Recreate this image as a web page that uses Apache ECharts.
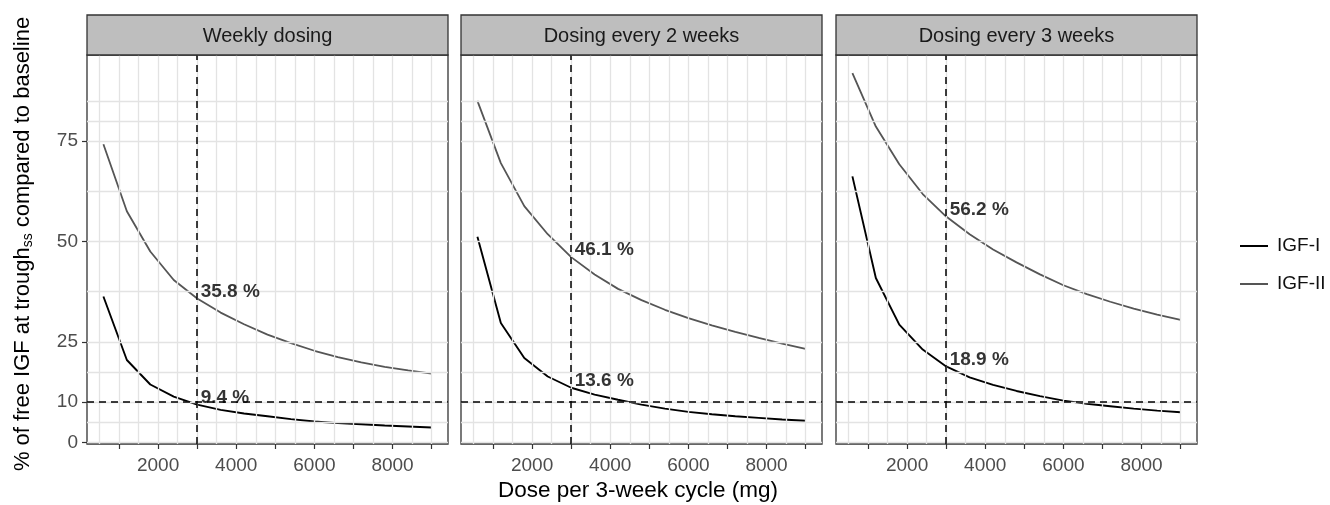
<!DOCTYPE html>
<html><head><meta charset="utf-8">
<script src="https://cdn.jsdelivr.net/npm/echarts@6/dist/echarts.min.js"></script>
<style>html,body{margin:0;padding:0;background:#fff}#c{width:1330px;height:505px}</style>
</head><body><div id="c"></div>
<script>
// ---- data ----
const doses = [600,1200,1800,2400,3000,3600,4200,4800,5400,6000,6600,7200,7800,8400,9000];
const panelTitles = ['Weekly dosing','Dosing every 2 weeks','Dosing every 3 weeks'];
const weeklyIGF1 = [36.3,20.5,14.4,11.4,9.4,8.1,7.2,6.5,5.8,5.2,4.8,4.5,4.2,3.95,3.7];
const weeklyIGF2 = [74.2,57.5,47.5,40.4,35.8,32.3,29.4,26.8,24.7,22.8,21.2,19.9,18.8,17.9,17.1];
const q2wIGF1 = [51.2,29.7,21.0,16.4,13.6,11.9,10.6,9.4,8.4,7.6,7.0,6.5,6.1,5.7,5.4];
const q2wIGF2 = [85.0,69.5,58.8,51.8,46.1,41.8,38.2,35.4,33.0,30.9,29.1,27.5,26.0,24.6,23.3];
const q3wIGF1 = [66.2,40.9,29.3,23.1,18.9,16.2,14.3,12.8,11.5,10.4,9.6,9.0,8.4,7.9,7.5];
const q3wIGF2 = [91.9,78.6,69.2,61.8,56.2,51.8,48.0,44.8,41.8,39.1,36.9,35.0,33.3,31.8,30.5];
const refDose = 3000;
const refLevel = 10;
const igf1AtRef = [9.4, 13.6, 18.9];
const igf2AtRef = [35.8, 46.1, 56.2];
const seriesNames = ['IGF-I','IGF-II'];
const xTickValues = [1000,2000,3000,4000,5000,6000,7000,8000,9000];
const xLabelValues = [2000,4000,6000,8000];
const yTickValues = [0,10,25,50,75];
const xGridValues = [500,1000,1500,2000,2500,3000,3500,4000,4500,5000,5500,6000,6500,7000,7500,8000,8500,9000];
const yGridValues = [0,5,10,17.5,25,37.5,50,62.5,75,80,85];

// ---- layout ----
const FONT = '"Liberation Sans", Arial, Helvetica, sans-serif';
const panelLeft = [87, 461, 836];
const panelW = 361, panelTop = 55, panelH = 389, stripTop = 15, stripH = 40;
const xRange = [180, 9420], yRange = [-0.4, 96.4];
const igf1 = [weeklyIGF1, q2wIGF1, q3wIGF1];
const igf2 = [weeklyIGF2, q2wIGF2, q3wIGF2];
const colI = '#000000', colII = '#555555';

const grids = [], xAxes = [], yAxes = [], series = [], graphics = [];
panelLeft.forEach((L, i) => {
  grids.push({left: L, top: panelTop, width: panelW, height: panelH, show: true,
    borderColor: '#333', borderWidth: 1.3, backgroundColor: 'transparent', containLabel: false});
  xAxes.push({type: 'value', gridIndex: i, min: xRange[0], max: xRange[1],
    axisLine: {show: false, onZero: false},
    axisTick: {show: true, length: 5, customValues: xTickValues, lineStyle: {color: '#333', width: 1.2}},
    axisLabel: {show: true, customValues: xLabelValues, fontSize: 19, color: '#4d4d4d', margin: 12, fontFamily: FONT,
      formatter: v => String(v)},
    splitLine: {show: false}, minorSplitLine: {show: false}});
  yAxes.push({type: 'value', gridIndex: i, min: yRange[0], max: yRange[1],
    axisLine: {show: false, onZero: false},
    axisTick: {show: i === 0, length: 5, customValues: yTickValues, lineStyle: {color: '#333', width: 1.2}},
    axisLabel: {show: i === 0, customValues: yTickValues, fontSize: 19, color: '#4d4d4d', margin: 9, fontFamily: FONT,
      formatter: v => String(v)},
    splitLine: {show: false}});
  // grid lines
  series.push({type: 'line', xAxisIndex: i, yAxisIndex: i, data: [], z: 1, silent: true,
    markLine: {silent: true, symbol: ['none','none'], label: {show: false}, animation: false,
      lineStyle: {color: '#e3e3e3', width: 1.3, type: 'solid'},
      emphasis: {disabled: true},
      data: xGridValues.map(v => ({xAxis: v})).concat(yGridValues.map(v => ({yAxis: v})))}});
  // curves
  [igf1[i], igf2[i]].forEach((vals, k) => {
    series.push({type: 'line', name: seriesNames[k], xAxisIndex: i, yAxisIndex: i, z: 3,
      symbol: 'none', showSymbol: false, silent: true,
      color: k === 0 ? colI : colII,
      lineStyle: {color: k === 0 ? colI : colII, width: k === 0 ? 1.9 : 1.8},
      data: doses.map((d, j) => [d, vals[j]])});
  });
  // reference dashed lines
  series.push({type: 'line', xAxisIndex: i, yAxisIndex: i, data: [], z: 4, silent: true,
    markLine: {silent: true, symbol: ['none','none'], label: {show: false}, animation: false,
      lineStyle: {color: '#000', width: 1.5, type: [7, 5]},
      emphasis: {disabled: true},
      data: [{xAxis: refDose}, {yAxis: refLevel}]}});
  // value labels
  series.push({type: 'scatter', xAxisIndex: i, yAxisIndex: i, z: 5, silent: true,
    symbol: 'circle', symbolSize: 1, itemStyle: {color: 'rgba(0,0,0,0)'},
    label: {show: true, position: [4, 3], align: 'left', verticalAlign: 'bottom',
      fontSize: 19, fontWeight: 'bold', color: '#000', fontFamily: FONT,
      formatter: p => p.value[1].toFixed(1) + ' %'},
    data: [[refDose, igf1AtRef[i]], [refDose, igf2AtRef[i]]]});
  // strip
  graphics.push({type: 'rect', shape: {x: L, y: stripTop, width: panelW, height: stripH},
    style: {fill: '#bebebe', stroke: '#333', lineWidth: 1.3}, z: 10});
  graphics.push({type: 'text', x: L + panelW / 2, y: stripTop + stripH / 2 + 1.5, z: 11,
    style: {text: panelTitles[i], fontSize: 20, fontFamily: FONT, fill: '#1a1a1a', align: 'center', verticalAlign: 'middle'}});
});

// axis titles
graphics.push({type: 'text', x: 638, y: 491, z: 11,
  style: {text: 'Dose per 3-week cycle (mg)', fontSize: 22.5, fontFamily: FONT, fill: '#000', align: 'center', verticalAlign: 'middle'}});
graphics.push({type: 'text', x: 23, y: 244, rotation: Math.PI / 2, z: 11,
  style: {text: '{m|% of free IGF at trough}{s|ss}{m| compared to baseline}', align: 'center', verticalAlign: 'middle',
    rich: {m: {fontSize: 22, fontFamily: FONT, fill: '#000', lineHeight: 24, verticalAlign: 'middle'},
           s: {fontSize: 14, fontFamily: FONT, fill: '#000', lineHeight: 14, verticalAlign: 'bottom'}}}});

const chart = echarts.init(document.getElementById('c'), null, {renderer: 'canvas'});
chart.setOption({
  animation: false,
  backgroundColor: '#ffffff',
  textStyle: {fontFamily: FONT},
  grid: grids, xAxis: xAxes, yAxis: yAxes, series: series,
  legend: {data: seriesNames, orient: 'vertical', left: 1240, top: 236, padding: 0,
    icon: 'rect', itemWidth: 28, itemHeight: 2, itemGap: 18, selectedMode: false,
    textStyle: {fontSize: 19, color: '#111', fontFamily: FONT, lineHeight: 20, padding: [0, 0, 0, 4]}},
  graphic: graphics
});
</script></body></html>
